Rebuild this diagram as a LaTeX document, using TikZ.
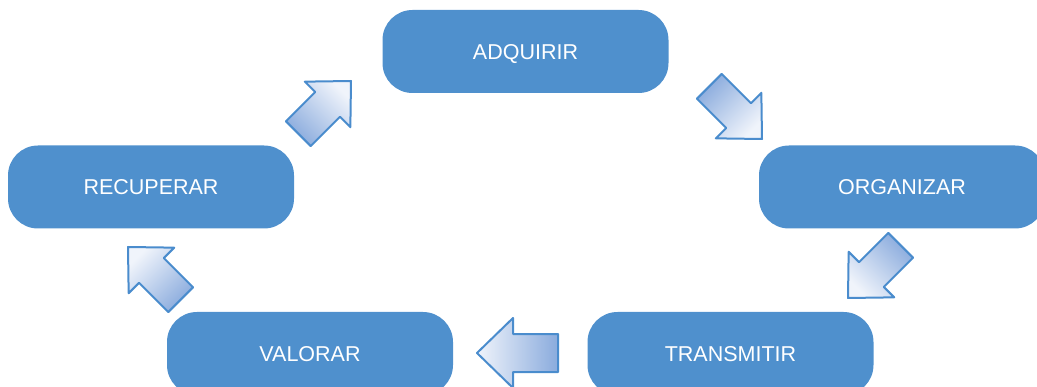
\documentclass[tikz,border=0pt]{standalone}
\usepackage{fontspec}
\setmainfont{Liberation Sans}
\usetikzlibrary{calc}
\definecolor{boxblue}{RGB}{79,144,205}
\definecolor{arrowedge}{RGB}{74,140,205}
\definecolor{arrowlight}{RGB}{240,244,251}
\definecolor{arrowdark}{RGB}{138,171,221}
\tikzset{
  box/.style={fill=boxblue, draw=none, rounded corners=30pt, minimum width=286pt,
    minimum height=83pt, text=white, font=\fontsize{21.5}{26}\selectfont, inner sep=0pt,
    text height=15.5pt, text depth=0pt},
  arrowst/.style={draw=arrowedge, line width=2pt, line join=round}
}
\newcommand{\barrow}[3]{%
  \pgfmathsetmacro\bang{#2}%
  \pgfmathsetmacro\shang{#2-90}%
  \pgfmathsetmacro\hl{36*#3}%
  \pgfmathsetmacro\hw{35*#3}%
  \pgfmathsetmacro\sw{19*#3}%
  \pgfmathsetmacro\tl{81*#3}%
  \path[arrowst, top color=arrowlight, bottom color=arrowdark, shading angle=\shang]
    (#1)
    -- ($(#1)+(\bang+180:\hl pt)+(\bang+90:\hw pt)$)
    -- ($(#1)+(\bang+180:\hl pt)+(\bang+90:\sw pt)$)
    -- ($(#1)+(\bang+180:\tl pt)+(\bang+90:\sw pt)$)
    -- ($(#1)+(\bang+180:\tl pt)+(\bang-90:\sw pt)$)
    -- ($(#1)+(\bang+180:\hl pt)+(\bang-90:\sw pt)$)
    -- ($(#1)+(\bang+180:\hl pt)+(\bang-90:\hw pt)$)
    -- cycle;}
\begin{document}
\begin{tikzpicture}[x=1pt,y=1pt]
\useasboundingbox (0,0) rectangle (1037,386);
\clip (0,0) rectangle (1037,386);
\node[box] (adq) at (525.5,334.5) {ADQUIRIR};
\node[box] (org) at (902,199) {ORGANIZAR};
\node[box] (rec) at (151,199) {RECUPERAR};
\node[box] (val) at (310,32.5) {VALORAR};
\node[box] (tra) at (730.5,32.5) {TRANSMITIR};
\coordinate (t1) at (351,305);
\coordinate (t2) at (762,247);
\coordinate (t3) at (848,88);
\coordinate (t4) at (477,33);
\coordinate (t5) at (128,139);
\barrow{t1}{45}{0.92}
\barrow{t2}{-45}{0.92}
\barrow{t3}{225}{0.92}
\barrow{t4}{180}{1}
\barrow{t5}{135}{0.92}
\end{tikzpicture}
\end{document}
